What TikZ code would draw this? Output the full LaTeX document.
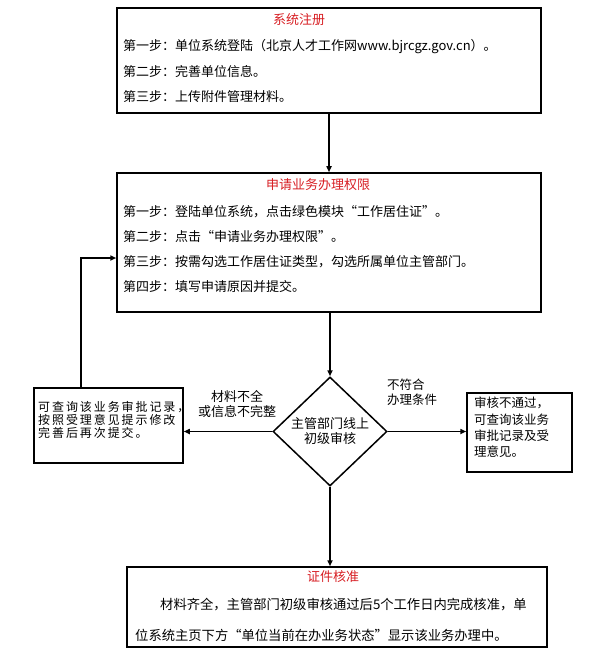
\documentclass[tikz,border=0pt]{standalone}
\usepackage{fontspec}
\setmainfont{Noto Sans CJK SC}
\usetikzlibrary{arrows.meta,shapes.geometric}

\definecolor{titlered}{RGB}{215,30,35}

\tikzset{
  box/.style={draw,line width=1.5pt,inner sep=0pt},
  boxtitle/.style={text=titlered,inner sep=0pt,font=\fontsize{13}{14}\selectfont},
  stepline/.style={anchor=west,inner sep=0pt,font=\fontsize{13}{14}\selectfont},
  flow/.style={-{Triangle[length=6pt,width=5pt]},line width=1.5pt},
}

\begin{document}
\begin{tikzpicture}[x=1pt,y=-1pt]
\useasboundingbox (0,0) rectangle (600,655);
% --- registration box ---
\node[box,minimum width=424pt,minimum height=105pt] (reg) at (329,60.5) {};
\node[boxtitle] (regtitle) at (299,20) {系统注册};
\node[stepline] (reg1) at (123,47) {第一步：单位系统登陆（北京人才工作网www.bjrcgz.gov.cn）。};
\node[stepline] (reg2) at (123,72) {第二步：完善单位信息。};
\node[stepline] (reg3) at (123,97) {第三步：上传附件管理材料。};
% --- application box ---
\node[box,minimum width=424pt,minimum height=139pt] (apply) at (329,242.5) {};
\node[boxtitle] (applytitle) at (318,185) {申请业务办理权限};
\node[stepline] (apply1) at (123,212) {第一步：登陆单位系统，点击绿色模块“工作居住证”。};
\node[stepline] (apply2) at (123,237) {第二步：点击“申请业务办理权限”。};
\node[stepline] (apply3) at (123,262) {第三步：按需勾选工作居住证类型，勾选所属单位主管部门。};
\node[stepline] (apply4) at (123,287) {第四步：填写申请原因并提交。};
% --- review ---
\node[draw,diamond,line width=1.5pt,inner sep=0pt,minimum width=114pt,minimum height=109pt,
      align=center,font=\fontsize{13}{15}\selectfont] (check) at (330,431.5) {主管部门线上\\初级审核};
\node[box,minimum width=149pt,minimum height=75pt] (back) at (108.5,425.5) {};
\node[anchor=west,inner sep=0pt,align=left,
      font=\fontsize{12}{13}\selectfont\addfontfeature{LetterSpace=16}] (backtext) at (38,420)
  {可查询该业务审批记录，\\按照受理意见提示修改\\完善后再次提交。};
\node[box,minimum width=105pt,minimum height=79pt] (reject) at (519.5,432.5) {};
\node[anchor=west,inner sep=0pt,align=left,font=\fontsize{12.5}{16.3}\selectfont] (rejecttext) at (474,427.5)
  {审核不通过，\\可查询该业务\\审批记录及受\\理意见。};
\node[inner sep=0pt,align=center,font=\fontsize{13}{15}\selectfont] (lackinfo) at (237,404.5)
  {材料不全\\或信息不完整};
\node[anchor=west,inner sep=0pt,align=left,font=\fontsize{12.5}{15}\selectfont] (notfit) at (387,392.5)
  {不符合\\办理条件};
% --- approval box ---
\node[box,minimum width=420pt,minimum height=80pt] (approve) at (337,607) {};
\node[boxtitle] (approvetitle) at (333,577) {证件核准};
\node[stepline,font=\fontsize{13.3}{14}\selectfont] (approve1) at (160,605)
  {材料齐全，主管部门初级审核通过后5个工作日内完成核准，单};
\node[stepline,font=\fontsize{13.3}{14}\selectfont] (approve2) at (135,635)
  {位系统主页下方“单位当前在办业务状态”显示该业务办理中。};
% --- connectors ---
\coordinate (turn) at (81,258);
\draw[flow] (reg) -- (apply);
\draw[flow] (check.north |- apply.south) -- (check.north);
\draw[flow] (check.west) -- (check.west -| back.east);
\draw[flow] (check.east) -- (check.east -| reject.west);
\draw[flow] (check.south) -- (check.south |- approve.north);
\draw[flow] (turn |- back.north) -- (turn) -- (turn -| apply.west);
\end{tikzpicture}
\end{document}
